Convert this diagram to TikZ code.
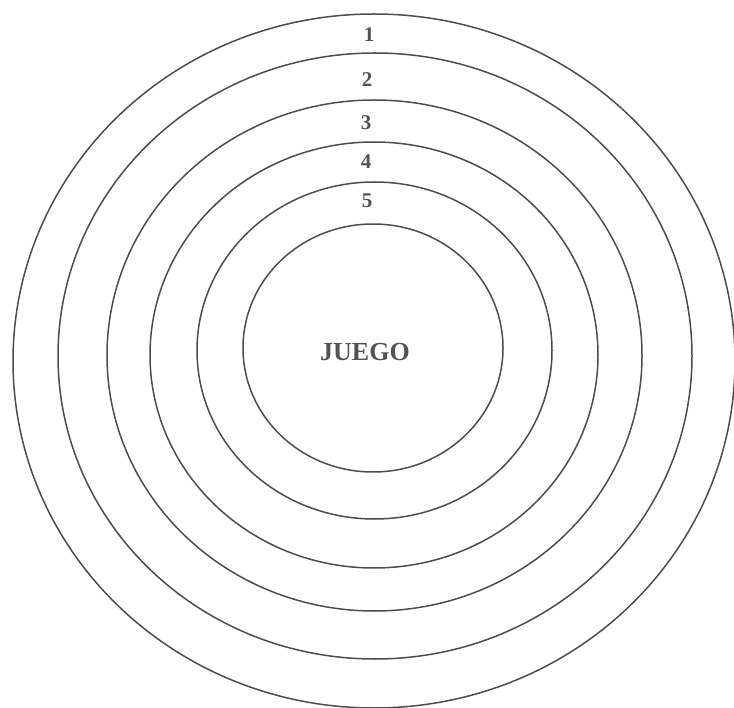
\documentclass[tikz,border=0pt]{standalone}
\usepackage{fontspec}
\setmainfont{Liberation Serif}
\begin{document}
\begin{tikzpicture}[x=1pt,y=-1pt,
  ring/.style={draw=black!70,line width=1.5pt},
  num/.style={text=black!68,font=\fontsize{21}{24}\selectfont\bfseries,inner sep=0pt},
  title/.style={text=black!68,font=\fontsize{26}{30}\selectfont\bfseries,inner sep=0pt}]
\useasboundingbox (0,0) rectangle (734,708);
\clip (0,0) rectangle (734,708);
\draw[ring] (374,361) ellipse [x radius=361,y radius=347];
\draw[ring] (375,356) ellipse [x radius=317,y radius=303];
\draw[ring] (374.5,355.5) ellipse [x radius=267.5,y radius=255.5];
\draw[ring] (374,355) ellipse [x radius=224,y radius=213];
\draw[ring] (374.5,350.5) ellipse [x radius=177.5,y radius=168.5];
\draw[ring] (373,348) ellipse [x radius=130,y radius=124];
\node[num] (n1) at (369,35) {1};
\node[num] (n2) at (367,80) {2};
\node[num] (n3) at (366,123) {3};
\node[num] (n4) at (366,162) {4};
\node[num] (n5) at (367,201) {5};
\node[title] (j) at (365,352) {JUEGO};
\end{tikzpicture}
\end{document}
